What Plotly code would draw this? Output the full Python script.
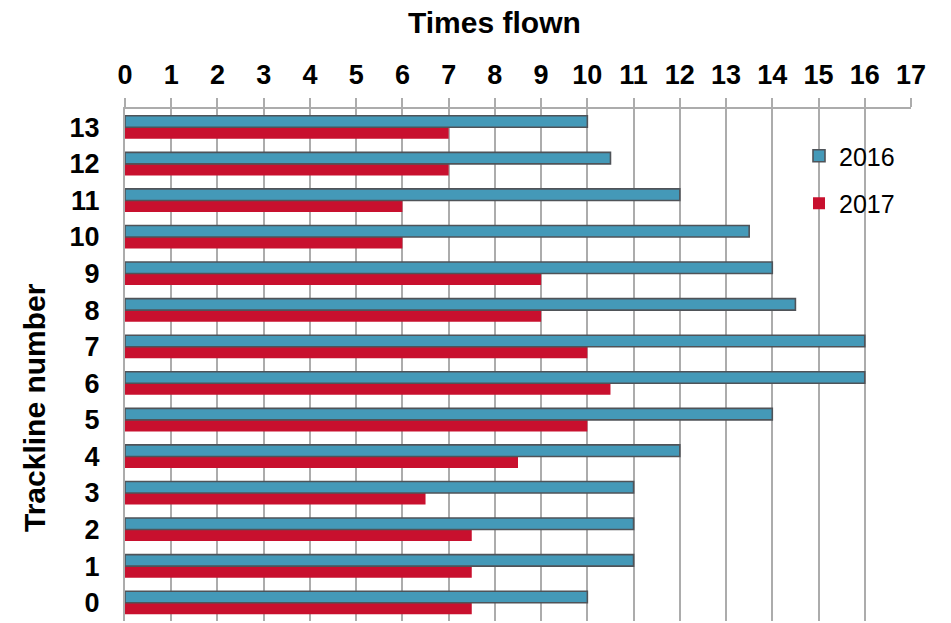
import plotly.graph_objects as go

tracklines = list(range(14))
times_2016 = [10, 11, 11, 11, 12, 14, 16, 16, 14.5, 14, 13.5, 12, 10.5, 10]
times_2017 = [7.5, 7.5, 7.5, 6.5, 8.5, 10, 10.5, 10, 9, 9, 6, 6, 7, 7]
x_ticks = list(range(18))

FONT = "Liberation Sans, Arial, sans-serif"
GRID = "#acacac"

L, R, T, B = 125, 40, 109, 2
W, H = 951, 623
pw, ph = W - L - R, H - T - B


def px(x):
    return (x - L) / pw


def py(y):
    return 1 - (y - T) / ph


fig = go.Figure()
fig.add_trace(go.Bar(
    y=tracklines, x=times_2017, name="2017", orientation="h",
    marker=dict(color="#c8102e", line=dict(width=0)),
    legendgroup="b", legendrank=2,
))
fig.add_trace(go.Bar(
    y=tracklines, x=times_2016, name="2016", orientation="h",
    marker=dict(color="#4499b8", line=dict(color="#4f5358", width=1.6)),
    legendgroup="a", legendrank=1,
))

fig.update_layout(
    width=W, height=H,
    margin=dict(l=L, r=R, t=T, b=B, autoexpand=False),
    paper_bgcolor="white", plot_bgcolor="white",
    barmode="group", bargap=0.37, bargroupgap=0,
    font=dict(family=FONT, color="black"),
    legend=dict(
        x=px(799), y=py(133), xanchor="left", yanchor="top",
        traceorder="grouped", tracegroupgap=12,
        font=dict(size=25, family=FONT, color="black"),
        bgcolor="rgba(0,0,0,0)",
    ),
    xaxis=dict(
        side="top", range=[0, 17], tickvals=x_ticks, automargin=False,
        showgrid=True, gridcolor=GRID, gridwidth=2,
        showline=True, linecolor=GRID, linewidth=2,
        ticks="outside", ticklen=9, tickwidth=2, tickcolor=GRID,
        ticklabelstandoff=3,
        tickfont=dict(size=27, family=FONT, weight="bold", color="black"),
        zeroline=False,
    ),
    yaxis=dict(
        range=[-0.5, 13.5], tickvals=tracklines, automargin=False,
        showgrid=False, showline=True, linecolor=GRID, linewidth=2,
        ticks="", ticklabelstandoff=18,
        tickfont=dict(size=27, family=FONT, weight="bold", color="black"),
        zeroline=False,
    ),
    annotations=[
        dict(text="Times flown", x=px(494), y=py(22), xref="paper", yref="paper",
             xanchor="center", yanchor="middle",
             showarrow=False, font=dict(size=30, family=FONT, weight="bold")),
        dict(text="Trackline number", x=px(34), y=py(408), xref="paper", yref="paper",
             xanchor="center", yanchor="middle",
             textangle=-90, showarrow=False,
             font=dict(size=30, family=FONT, weight="bold")),
    ],
)

fig.write_html("out.html", config={"displayModeBar": False},
               post_script="document.body.style.margin='0';")
